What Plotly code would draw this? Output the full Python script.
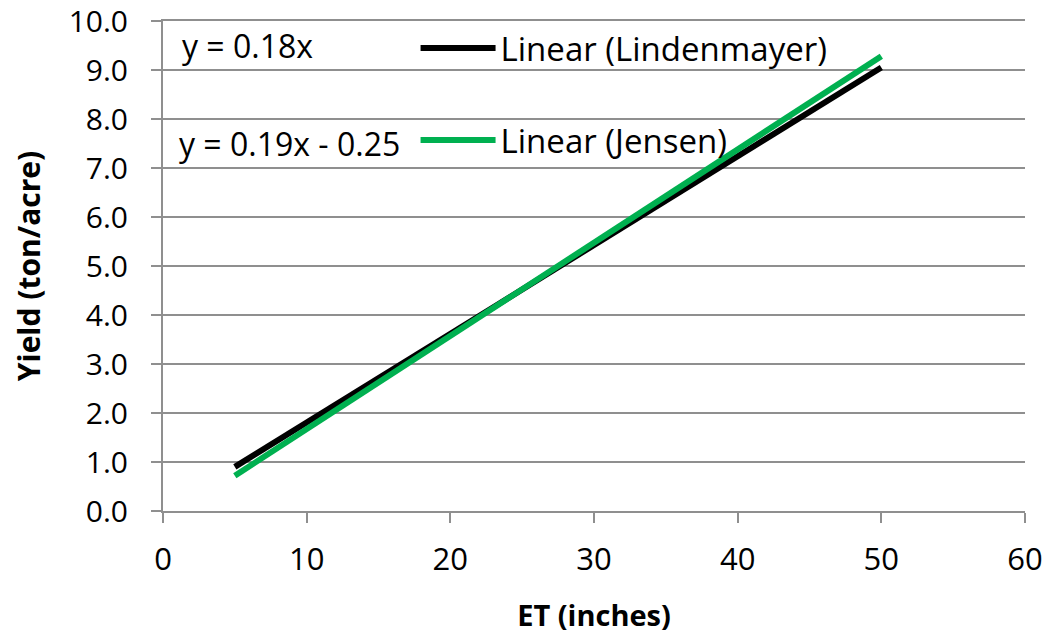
import plotly.graph_objects as go

et_x = [5, 50]
linden_y = [0.9, 9.05]
jensen_y = [0.72, 9.28]
eq_texts = ["y = 0.18x", "y = 0.19x - 0.25"]
eq_pos = [(1.2, 9.49), (1.0, 7.49)]
series_names = ["Linear (Lindenmayer)", "Linear (Jensen)"]
y_ticks = [i for i in range(0, 11)]
y_tick_text = [f"{v:.1f}" for v in y_ticks]
x_ticks = [0, 10, 20, 30, 40, 50, 60]

FONT = "Open Sans"
GRID = "#8f8f8f"

fig = go.Figure()
fig.add_trace(go.Scatter(x=et_x, y=linden_y, mode="lines", name=series_names[0],
                         line=dict(color="black", width=6), legend="legend"))
fig.add_trace(go.Scatter(x=et_x, y=jensen_y, mode="lines", name=series_names[1],
                         line=dict(color="#00b050", width=6), legend="legend2"))

for t, (ax, ay) in zip(eq_texts, eq_pos):
    fig.add_annotation(x=ax, y=ay, text=t, showarrow=False, xanchor="left", yanchor="middle",
                       font=dict(family=FONT, size=32, color="black"))

legend_common = dict(font=dict(family=FONT, size=33, color="black"), bgcolor="rgba(0,0,0,0)",
                     itemwidth=75, xanchor="left", yanchor="middle")

fig.update_layout(
    width=1044, height=628,
    margin=dict(l=155, r=27, t=13, b=125),
    paper_bgcolor="white", plot_bgcolor="white",
    showlegend=True,
    legend=dict(x=0.293, y=0.945, **legend_common),
    legend2=dict(x=0.293, y=0.757, **legend_common),
    xaxis=dict(range=[0, 60], tickvals=x_ticks, ticks="outside", ticklen=10, tickwidth=2,
               tickcolor=GRID, showgrid=False, showline=True, linecolor=GRID, linewidth=2,
               mirror=True,
               zeroline=False, ticklabelstandoff=10, automargin=False, ticklabeloverflow="allow",
               tickfont=dict(family=FONT, size=31, color="black"),
               title=dict(text="<b>ET (inches)</b>", font=dict(family=FONT, size=29, color="black"),
                          standoff=27)),
    yaxis=dict(range=[0, 10], tickvals=y_ticks, ticktext=y_tick_text, ticks="outside", ticklen=10,
               tickwidth=2, tickcolor=GRID, showgrid=True, gridcolor=GRID, gridwidth=2,
               showline=True, linecolor=GRID, linewidth=2, zeroline=False, ticklabelstandoff=17,
               automargin=False, ticklabeloverflow="allow",
               tickfont=dict(family=FONT, size=30, color="black"),
               title=dict(text="<b>Yield (ton/acre)</b>", font=dict(family=FONT, size=30, color="black"),
                          standoff=36)),
)

fig.write_html("out.html")
